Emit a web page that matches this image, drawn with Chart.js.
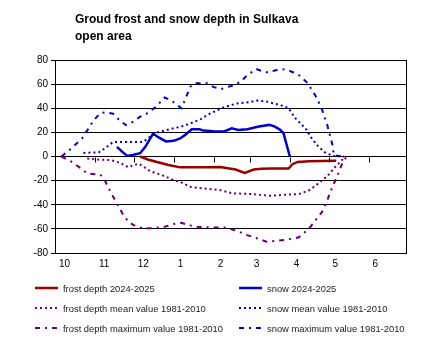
<!DOCTYPE html>
<html>
<head>
<meta charset="utf-8">
<script src="https://cdn.jsdelivr.net/npm/chart.js@4"></script>
<style>
    body { margin: 0; background: #fff; }
    #wrap { position: relative; width: 430px; height: 352px; font-family: "Liberation Sans", Arial, sans-serif; }
    #chartCanvas { position: absolute; left: 0; top: 0; }
    #title { position: absolute; left: 75px; top: 11px; font-size: 12px; font-weight: bold; line-height: 17px; color: #000; }
    #legend { position: absolute; left: 0; top: 0; width: 430px; height: 352px; pointer-events: none; }
    .item { position: absolute; height: 12px; display: flex; align-items: center; font-size: 9.4px; color: #222; white-space: nowrap; }
    .item svg { margin-right: 5px; }
</style>
</head>
<body>
<div id="wrap">
    <canvas id="chartCanvas" width="430" height="352"></canvas>
    <div id="title">Groud frost and snow depth in Sulkava<br>open area</div>
    <div id="legend"></div>
</div>
<script>
// Days counted from 1 October; values in cm (frost negative)

const monthStarts = [0, 31, 61, 92, 123, 151, 182, 212, 243];
const monthLabels = ["10", "11", "12", "1", "2", "3", "4", "5", "6"];

const frost2024 = [[66, 0], [72, -2.5], [79, -4.5], [88, -7], [97, -9], [118, -9], [128, -8.8], [140, -10.8],
    [147, -13.6], [154, -10.8], [160, -10.2], [167, -10], [181, -10], [184, -6.4], [188, -4.5], [197, -4], [218, -3.6]];

const snow2024 = [[48, 8], [52, 4], [56, 0.5], [61, 1.5], [66, 2.7], [70, 8], [76, 19], [80, 16], [86, 12.5],
    [92, 13], [97, 15], [101, 18], [106, 22.5], [112, 22.6], [115, 21.5], [123, 21], [131, 20.7], [137, 23.3],
    [142, 22], [149, 22.6], [158, 24.8], [166, 26.2], [170, 25], [174, 22.5], [177, 19.5], [182, 0]];

const frostMean = [[25, -1.7], [34, -2.5], [43, -3], [50, -5], [57, -9], [61, -7], [65, -6], [70, -9.5],
    [74, -12.3], [83, -15.5], [92, -19.6], [97, -21], [105, -25.2], [115, -26.5], [123, -27.3], [128, -27.9],
    [138, -30.6], [154, -31.2], [167, -32.6], [181, -31.5], [189, -31.2], [197, -28], [204, -22.4],
    [211, -16.3], [216, -10], [221, -4.5], [225, 0]];

const snowMean = [[22, 3], [34, 3.5], [39, 7], [45, 12], [68, 12], [72, 15], [78, 19.5], [92, 23.5], [97, 24.5],
    [105, 27.5], [113, 31], [120, 35.5], [131, 41], [141, 44], [150, 45], [157, 46.5], [164, 45.5], [175, 42.5],
    [181, 40], [186, 32], [194, 23.5], [199, 15], [204, 8.3], [210, 2.7], [216, 0.5], [224, 0]];

const frostMax = [[5, 0], [13, -4.5], [19, -9], [25, -14], [32, -14.7], [35, -15], [38, -18.5], [43, -29.3],
    [48, -38.9], [53, -48.6], [57, -54.2], [61, -56.9], [68, -59.6], [75, -59.5], [85, -58.3], [92, -56],
    [98, -55], [104, -57], [110, -58.3], [123, -58.8], [131, -58.8], [141, -61.6], [149, -65.2], [157, -68],
    [164, -70.7], [171, -70], [181, -68.7], [189, -67], [197, -59.6], [202, -52.8], [207, -45.9], [211, -36.2],
    [215, -25.2], [219, -15.5], [222, -7.2], [226, 0]];

const snowMax = [[5, 0], [13, 7], [21, 15], [30, 30], [35, 36], [39, 36.5], [45, 35.5], [49, 31], [55, 26],
    [60, 28.5], [66, 33], [71, 35.5], [78, 41], [85, 49], [89, 47], [92, 45], [98, 40], [105, 58], [108, 60.7],
    [118, 60.7], [123, 57.5], [129, 56], [138, 59], [144, 62], [149, 67.5], [156, 72.5], [160, 71], [164, 69.8],
    [172, 71.7], [178, 72.3], [182, 71], [189, 67.5], [196, 60.7], [203, 48.3], [207, 38.6], [211, 26],
    [215, 9.6], [216, 1.3], [220, 0.5], [222, 0]];

const RED = "#990000";
const BLUE = "#0000d0";
const PURPLE = "#660066";
const DOT = [2, 3];
const DASHDOT = [5, 5, 2, 5];

function toPoints(arr) {
    return arr.map(p => ({ x: p[0], y: p[1] }));
}

function line(label, arr, color, dash, width) {
    return {
        label: label,
        data: toPoints(arr),
        borderColor: color,
        backgroundColor: color,
        borderWidth: width,
        borderDash: dash,
        pointRadius: 0,
        tension: 0,
        fill: false
    };
}

// right frame + small tick marks on the zero line
const framePlugin = {
    id: "frame",
    afterDraw(chart) {
        const ctx = chart.ctx;
        const x = chart.scales.x;
        const y = chart.scales.y;
        const area = chart.chartArea;
        const y0 = Math.round(y.getPixelForValue(0)) + 0.5;
        ctx.save();
        ctx.strokeStyle = "#000";
        ctx.lineWidth = 1;
        ctx.beginPath();
        const rx = Math.round(area.right) + 0.5;
        ctx.moveTo(rx, Math.round(area.top));
        ctx.lineTo(rx, Math.round(area.bottom) + 1);
        monthStarts.slice(1).forEach(d => {
            const px = Math.round(x.getPixelForValue(d)) + 0.5;
            ctx.moveTo(px, y0);
            ctx.lineTo(px, y0 + 5);
        });
        ctx.stroke();
        ctx.restore();
    }
};

// legend in two columns, like the original
const legendPlugin = {
    id: "htmlLegend",
    afterUpdate(chart) {
        const box = document.getElementById("legend");
        box.innerHTML = "";
        chart.data.datasets.forEach((ds, i) => {
            const col = i % 2;
            const row = Math.floor(i / 2);
            const item = document.createElement("div");
            item.className = "item";
            item.style.left = (col === 0 ? 35 : 239) + "px";
            item.style.top = (282 + row * 20) + "px";
            const dash = ds.borderDash && ds.borderDash.length ? ds.borderDash.join(" ") : "none";
            item.innerHTML =
                '<svg width="23" height="6"><line x1="0" y1="3" x2="23" y2="3" stroke="' + ds.borderColor +
                '" stroke-width="' + ds.borderWidth + '" stroke-dasharray="' + dash + '"/></svg>' +
                "<span>" + ds.label + "</span>";
            box.appendChild(item);
        });
    }
};

Chart.defaults.font.family = '"Liberation Sans", Arial, sans-serif';
Chart.defaults.color = "#000";

const chart = new Chart(document.getElementById("chartCanvas").getContext("2d"), {
    type: "line",
    data: {
        datasets: [
            line("frost depth 2024-2025", frost2024, RED, [], 2.5),
            line("snow 2024-2025", snow2024, BLUE, [], 2.5),
            line("frost depth mean value 1981-2010", frostMean, PURPLE, DOT, 2),
            line("snow mean value 1981-2010", snowMean, BLUE, DOT, 2),
            line("frost depth maximum value 1981-2010", frostMax, PURPLE, DASHDOT, 2),
            line("snow maximum value 1981-2010", snowMax, BLUE, DASHDOT, 2)
        ]
    },
    options: {
        responsive: false,
        animation: false,
        layout: {
            padding: { left: 0, right: 24, top: 60, bottom: 79 }
        },
        plugins: {
            legend: { display: false },
            tooltip: { enabled: false },
            title: { display: false }
        },
        scales: {
            x: {
                type: "linear",
                min: 0,
                max: 272,
                afterBuildTicks: scale => {
                    scale.ticks = monthStarts.map(v => ({ value: v }));
                },
                afterFit: scale => { scale.height = 20; },
                grid: { display: false, drawTicks: false },
                border: { display: true, color: "#000", width: 1 },
                ticks: {
                    autoSkip: false,
                    maxRotation: 0,
                    align: "start",
                    labelOffset: 4,
                    padding: 5,
                    font: { size: 10 },
                    color: "#000",
                    callback: (value, index) => monthLabels[index]
                }
            },
            y: {
                min: -80,
                max: 80,
                afterFit: scale => { scale.width = 55; },
                grid: { color: "#000", lineWidth: 1, tickLength: 4 },
                border: { display: true, color: "#000", width: 1 },
                ticks: {
                    stepSize: 20,
                    padding: 3,
                    font: { size: 10 },
                    color: "#000"
                }
            }
        }
    },
    plugins: [framePlugin, legendPlugin]
});
</script>
</body>
</html>
